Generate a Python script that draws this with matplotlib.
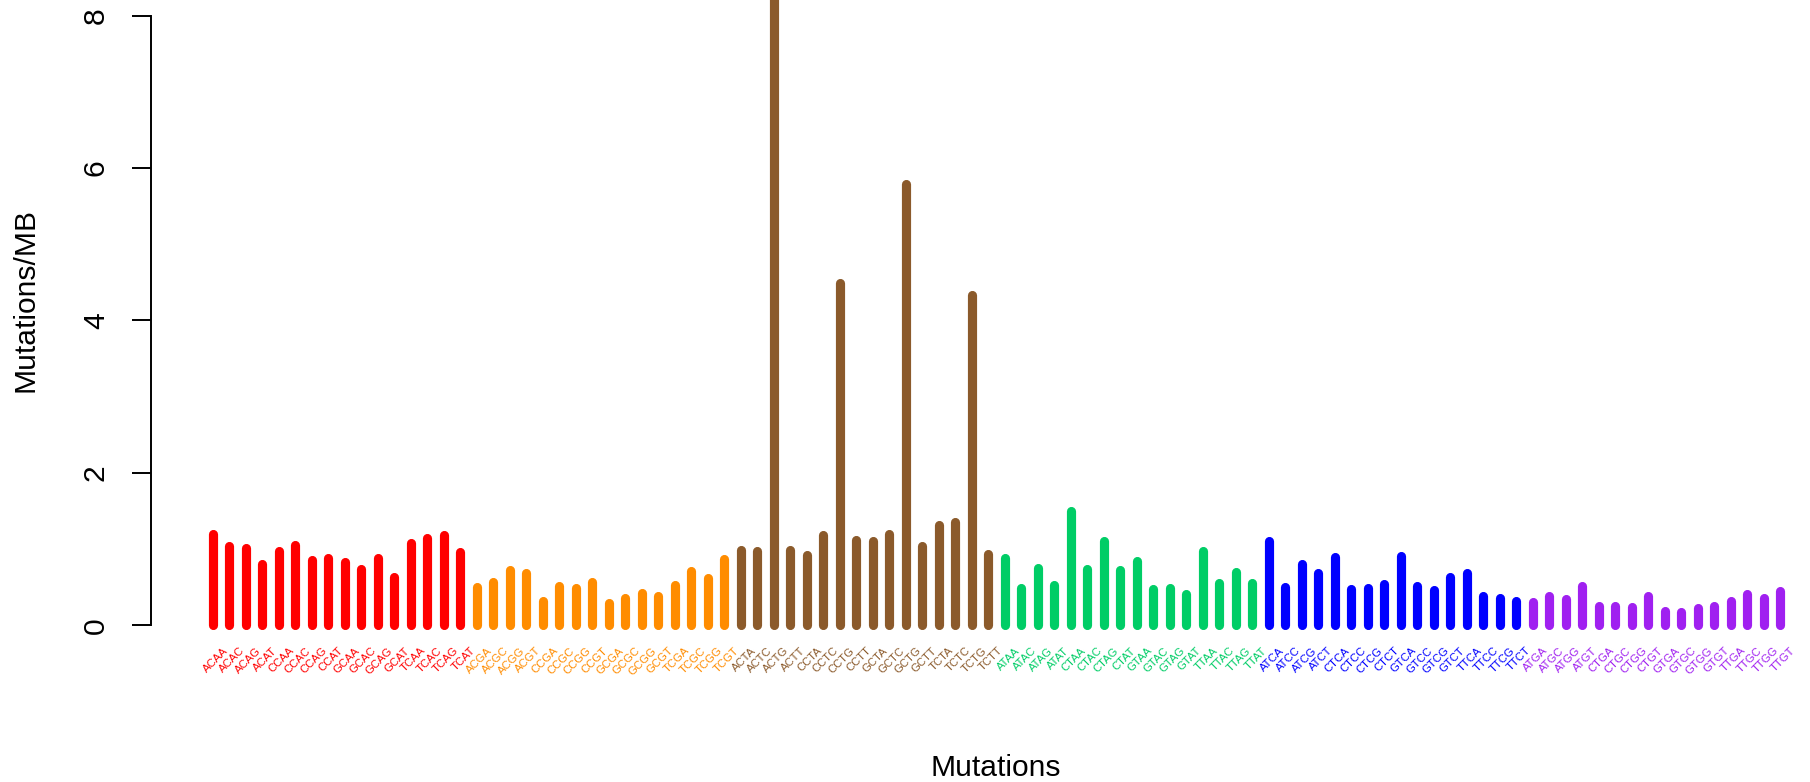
import numpy as np
import matplotlib
matplotlib.use('Agg')
import matplotlib.pyplot as plt

plt.rcParams['font.family'] = ['Liberation Sans', 'DejaVu Sans']

# Mutation contexts (5' base, ref, alt, 3' base), one list per substitution class
Lab_CA = ['ACAA', 'ACAC', 'ACAG', 'ACAT', 'CCAA', 'CCAC', 'CCAG', 'CCAT',
          'GCAA', 'GCAC', 'GCAG', 'GCAT', 'TCAA', 'TCAC', 'TCAG', 'TCAT']
Lab_CG = ['ACGA', 'ACGC', 'ACGG', 'ACGT', 'CCGA', 'CCGC', 'CCGG', 'CCGT',
          'GCGA', 'GCGC', 'GCGG', 'GCGT', 'TCGA', 'TCGC', 'TCGG', 'TCGT']
Lab_CT = ['ACTA', 'ACTC', 'ACTG', 'ACTT', 'CCTA', 'CCTC', 'CCTG', 'CCTT',
          'GCTA', 'GCTC', 'GCTG', 'GCTT', 'TCTA', 'TCTC', 'TCTG', 'TCTT']
Lab_TA = ['ATAA', 'ATAC', 'ATAG', 'ATAT', 'CTAA', 'CTAC', 'CTAG', 'CTAT',
          'GTAA', 'GTAC', 'GTAG', 'GTAT', 'TTAA', 'TTAC', 'TTAG', 'TTAT']
Lab_TC = ['ATCA', 'ATCC', 'ATCG', 'ATCT', 'CTCA', 'CTCC', 'CTCG', 'CTCT',
          'GTCA', 'GTCC', 'GTCG', 'GTCT', 'TTCA', 'TTCC', 'TTCG', 'TTCT']
Lab_TG = ['ATGA', 'ATGC', 'ATGG', 'ATGT', 'CTGA', 'CTGC', 'CTGG', 'CTGT',
          'GTGA', 'GTGC', 'GTGG', 'GTGT', 'TTGA', 'TTGC', 'TTGG', 'TTGT']

# Mutations/MB for each context
Val_CA = [1.20, 1.04, 1.02, 0.81, 0.97, 1.06, 0.86, 0.88, 0.83, 0.74, 0.88, 0.64, 1.08, 1.15, 1.18, 0.96]
Val_CG = [0.50, 0.57, 0.72, 0.69, 0.32, 0.52, 0.49, 0.57, 0.29, 0.36, 0.42, 0.38, 0.53, 0.71, 0.62, 0.87]
Val_CT = [0.99, 0.98, 8.60, 0.99, 0.92, 1.19, 4.49, 1.12, 1.10, 1.20, 5.79, 1.04, 1.31, 1.35, 4.34, 0.94]
Val_TA = [0.88, 0.49, 0.75, 0.53, 1.50, 0.74, 1.10, 0.72, 0.85, 0.47, 0.49, 0.41, 0.98, 0.56, 0.70, 0.55]
Val_TC = [1.10, 0.50, 0.81, 0.69, 0.89, 0.48, 0.49, 0.54, 0.91, 0.52, 0.46, 0.63, 0.69, 0.39, 0.36, 0.32]
Val_TG = [0.30, 0.39, 0.35, 0.51, 0.25, 0.25, 0.24, 0.38, 0.19, 0.17, 0.23, 0.25, 0.32, 0.41, 0.36, 0.45]

Col_Grp = ['#FF0000', '#FF8C00', '#8B5A2B', '#00CD66', '#0000FF', '#A020F0']
Y_Ticks = [0, 2, 4, 6, 8]

Labels = Lab_CA + Lab_CG + Lab_CT + Lab_TA + Lab_TC + Lab_TG
Values = np.array(Val_CA + Val_CG + Val_CT + Val_TA + Val_TC + Val_TG)
Groups = [Lab_CA, Lab_CG, Lab_CT, Lab_TA, Lab_TC, Lab_TG]
Colors = []
for g, grp in enumerate(Groups):
    Colors += [Col_Grp[g]] * len(grp)
X = np.arange(len(Values))

fig = plt.figure(figsize=(18.1, 7.82), dpi=100)
ax = fig.add_axes([0.08326, 0.1517, 0.9167, 0.8483])

# bars drawn as thick segments with round ends
ax.vlines(X, 0, Values, colors=Colors, linewidth=6.6, capstyle='round')

for i in range(len(Labels)):
    ax.text(X[i] + 0.79, -0.311, Labels[i], rotation=45, ha='right', va='center',
            rotation_mode='anchor', fontsize=8.1, color=Colors[i], clip_on=False)

ax.set_xlim(-3.776, 96.79)
ax.set_ylim(-0.5, 8.206)
for s in ['top', 'right', 'bottom']:
    ax.spines[s].set_visible(False)
ax.spines['left'].set_bounds(0, 8)
ax.spines['left'].set_linewidth(1.4)
ax.set_xticks([])
ax.set_yticks(Y_Ticks)
ax.set_yticklabels([str(t) for t in Y_Ticks])
ax.tick_params(axis='y', length=13.7, width=1.4, pad=25.7, labelsize=21.6)
for lbl in ax.get_yticklabels():
    lbl.set_rotation(90)
    lbl.set_ha('center')
    lbl.set_va('center')

fig.text(33 / 1810, 1 - 300 / 782, 'Mutations/MB', rotation=90, ha='center', va='baseline',
         rotation_mode='anchor', fontsize=21.6)
fig.text(996 / 1810, 1 - 775.5 / 782, 'Mutations', ha='center', va='baseline', fontsize=21.6)

fig.savefig('out.png', dpi=100)
